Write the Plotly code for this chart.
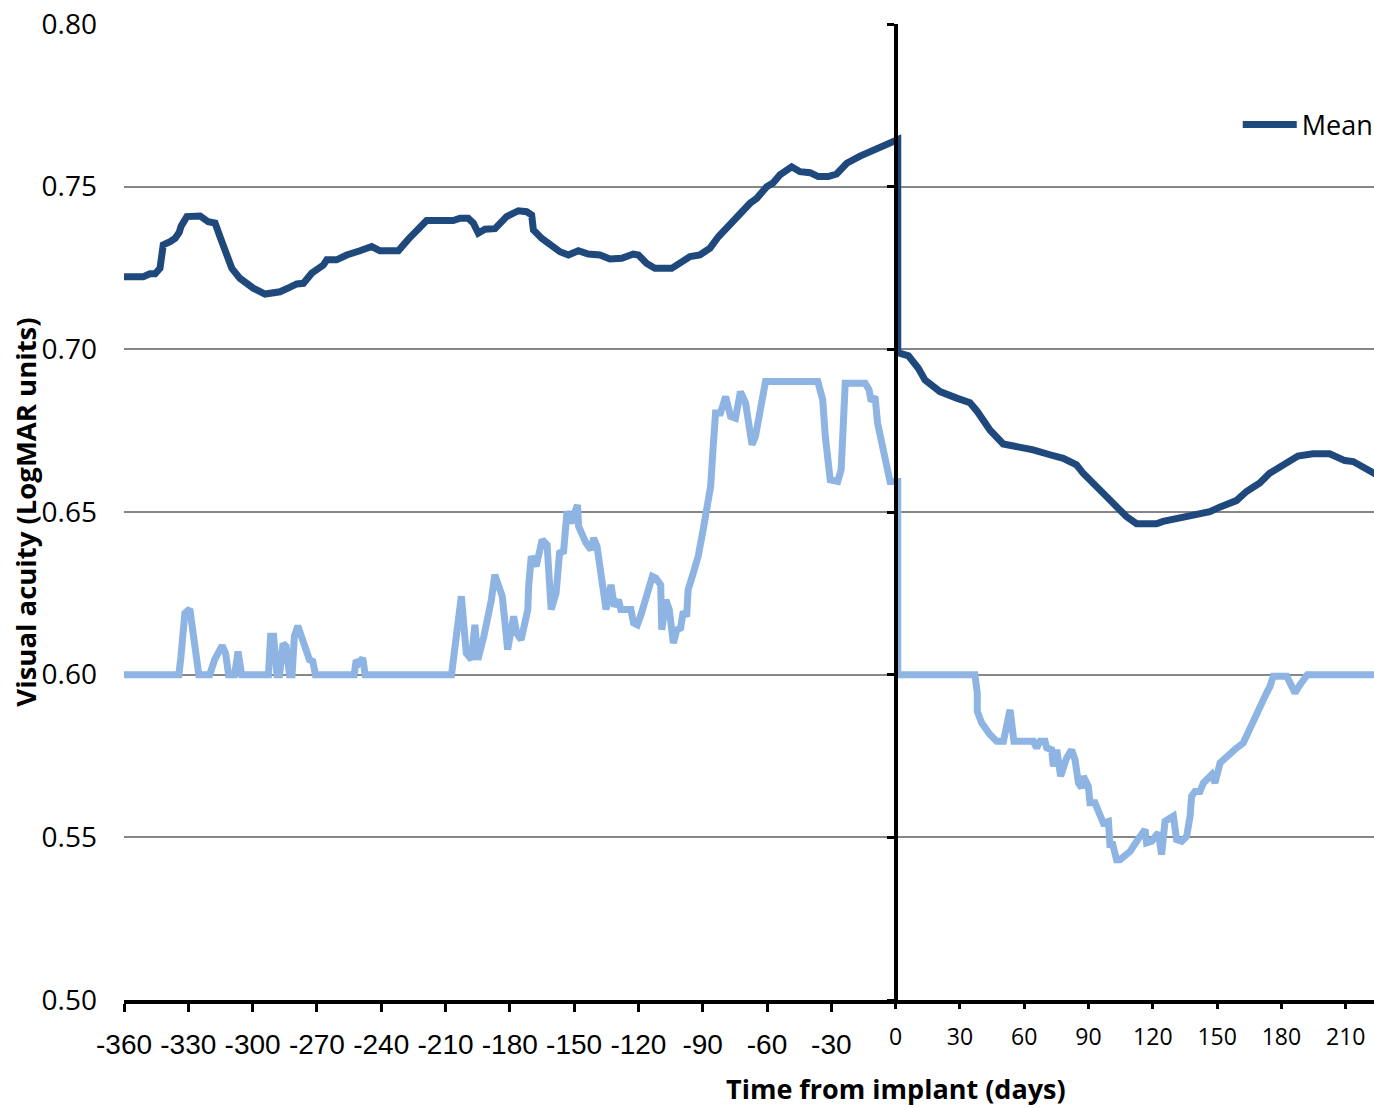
import plotly.graph_objects as go

# ---- data (days from implant, LogMAR) ----
mean_days = [-360, -351, -347.9, -345.5, -343.2, -341.7, -338.5, -336.2, -334.2, -333.4, -330.7,
             -324.5, -320.7, -317.5, -315.2, -312.1, -309.7, -305.9, -299.7, -294.2, -290.3,
             -287.2, -282.5, -279.4, -276.3, -272.4, -267.0, -265.4, -260.8, -256.1, -249.9,
             -244.4, -240.6, -232.0, -227.4, -223.4, -218.8, -206.4, -203.2, -199.4, -197.0,
             -194.7, -191.6, -186.9, -183.8, -181.5, -176.0, -172.1, -169.8, -169.0, -165.1,
             -161.2, -156.6, -152.7, -148.0, -143.4, -137.9, -133.3, -127.8, -122.4, -120.0,
             -116.1, -112.3, -104.5, -99.8, -95.9, -91.3, -86.6, -82.7, -74.2, -67.9, -64.8,
             -60.1, -57.1, -54.0, -48.5, -44.6, -39.9, -36.1, -31.4, -27.5, -22.8, -16.6, 1.0,
             1.0, 6.0, 10.6, 13.7, 20.7, 28.5, 34.7, 38.1, 44.0, 50.2, 56.5, 64.2, 72.0, 78.2,
             84.4, 87.5, 96.8, 107.7, 112.4, 121.7, 124.8, 132.6, 141.9, 146.6, 151.2, 159.0,
             163.7, 169.9, 174.5, 180.7, 187.7, 194.7, 202.5, 209.6, 213.5, 223.2, 228.0]
mean_vals = [0.7223, 0.7223, 0.7232, 0.7232, 0.7249, 0.7321, 0.7331, 0.7341, 0.7360, 0.7378, 0.7408,
             0.7410, 0.7392, 0.7388, 0.7346, 0.7290, 0.7249, 0.7218, 0.7188, 0.7170, 0.7172,
             0.7177, 0.7191, 0.7201, 0.7203, 0.7234, 0.7259, 0.7275, 0.7275, 0.7290, 0.7303,
             0.7316, 0.7303, 0.7303, 0.7338, 0.7367, 0.7396, 0.7396, 0.7403, 0.7403, 0.7388,
             0.7357, 0.7369, 0.7371, 0.7392, 0.7408, 0.7426, 0.7423, 0.7413, 0.7367, 0.7341,
             0.7321, 0.7300, 0.7290, 0.7303, 0.7293, 0.7290, 0.7278, 0.7280, 0.7293, 0.7290,
             0.7264, 0.7249, 0.7249, 0.7270, 0.7285, 0.7290, 0.7311, 0.7346, 0.7406, 0.7449, 0.7464,
             0.7500, 0.7512, 0.7536, 0.7561, 0.7546, 0.7543, 0.7531, 0.7531, 0.7539, 0.7572, 0.7594, 0.7645,
             0.6990, 0.6980, 0.6942, 0.6906, 0.6870, 0.6850, 0.6836, 0.6809, 0.6752, 0.6709, 0.6703,
             0.6691, 0.6676, 0.6665, 0.6645, 0.6619, 0.6558, 0.6486, 0.6464, 0.6464, 0.6471, 0.6481,
             0.6498, 0.6501, 0.6515, 0.6535, 0.6563, 0.6589, 0.6619, 0.6645, 0.6672, 0.6679, 0.6679,
             0.6658, 0.6655, 0.6619, 0.6600]

median_days = [-360, -334.4, -333.5, -331.6, -329.3, -327.0, -325.1, -320.0, -317.7, -314.2, -312.6,
               -311.2, -308.4, -306.8, -305.1, -292.6, -291.6, -290.2, -288.6, -287.4, -285.8,
               -284.4, -282.8, -281.6, -280.5, -278.9, -274.7, -273.5, -271.9, -270.7, -252.6,
               -251.7, -250.3, -248.6, -247.5, -207.2, -202.6, -200.3, -197.9, -196.3, -194.9,
               -192.1, -188.6, -187.0, -183.5, -182.8, -181.0, -178.2, -176.8, -174.7, -171.6,
               -171.2, -170.0, -167.7, -164.9, -162.6, -160.7, -158.4, -156.8, -154.9, -153.3,
               -151.4, -148.4, -147.9, -144.4, -142.1, -140.9, -139.3, -135.1, -132.8, -131.2,
               -129.3, -128.2, -123.5, -122.3, -120.5, -118.8, -113.5, -111.9, -109.6, -109.1,
               -107.2, -105.6, -103.7, -102.1, -100.3, -99.1, -97.5, -96.8, -94.4, -92.1, -89.8,
               -86.3, -85.1, -84.0, -81.7, -79.3, -77.0, -74.7, -72.4, -70.0, -67.0, -65.4, -60.7,
               -36.3, -34.0, -32.8, -30.5, -27.0, -25.4, -23.5, -14.2, -12.4, -11.4, -9.6, -8.4,
               -3.8, -2.6, 1.0,
               1.0, 37.0, 38.1, 38.1, 40.2, 44.0, 47.2, 50.3, 53.4, 55.2, 64.3, 65.8, 67.4, 69.7,
               70.5, 72.8, 73.6, 75.2, 77.0, 79.8, 82.1, 83.7, 85.3, 86.8, 87.6, 89.9, 90.7, 93.0,
               94.6, 96.9, 99.3, 100.0, 101.3, 103.1, 104.7, 109.4, 112.5, 116.4, 117.1, 119.5,
               122.6, 124.1, 125.7, 127.3, 129.6, 131.1, 133.5, 135.8, 137.4, 138.1, 139.7, 142.0,
               143.6, 147.5, 149.0, 151.4, 154.5, 159.1, 162.2, 164.6, 166.1, 168.5, 173.1, 174.7,
               176.2, 182.5, 186.3, 188.7, 191.0, 192.1, 228.0]
median_vals = [0.6000, 0.6000, 0.6051, 0.6189, 0.6202, 0.6097, 0.6000, 0.6000, 0.6046, 0.6089, 0.6066,
               0.6000, 0.6000, 0.6071, 0.6000, 0.6000, 0.6118, 0.6118, 0.6000, 0.6000, 0.6095,
               0.6087, 0.6000, 0.6000, 0.6118, 0.6150, 0.6077, 0.6046, 0.6041, 0.6000, 0.6000,
               0.6044, 0.6036, 0.6051, 0.6000, 0.6000, 0.6241, 0.6066, 0.6046, 0.6153, 0.6046,
               0.6118, 0.6230, 0.6307, 0.6241, 0.6189, 0.6077, 0.6179, 0.6128, 0.6107, 0.6200,
               0.6271, 0.6364, 0.6333, 0.6415, 0.6399, 0.6200, 0.6251, 0.6374, 0.6379, 0.6502,
               0.6466, 0.6522, 0.6456, 0.6404, 0.6384, 0.6420, 0.6394, 0.6200, 0.6276, 0.6210,
               0.6230, 0.6200, 0.6200, 0.6159, 0.6153, 0.6184, 0.6302, 0.6297, 0.6276, 0.6138,
               0.6230, 0.6200, 0.6097, 0.6138, 0.6143, 0.6194, 0.6179, 0.6261, 0.6312, 0.6364, 0.6445,
               0.6579, 0.6701, 0.6804, 0.6804, 0.6855, 0.6794, 0.6788, 0.6870, 0.6835, 0.6707, 0.6732, 0.6901,
               0.6901, 0.6845, 0.6732, 0.6599, 0.6594, 0.6630, 0.6896, 0.6896, 0.6876, 0.6840, 0.6855, 0.6773,
               0.6630, 0.6594, 0.6594,
               0.6000, 0.6000, 0.5944, 0.5887, 0.5851, 0.5816, 0.5795, 0.5795, 0.5892, 0.5795, 0.5795,
               0.5775, 0.5795, 0.5795, 0.5775, 0.5769, 0.5718, 0.5769, 0.5688, 0.5744, 0.5769, 0.5739,
               0.5667, 0.5652, 0.5688, 0.5657, 0.5606, 0.5606, 0.5575, 0.5544, 0.5549, 0.5478, 0.5478,
               0.5431, 0.5431, 0.5457, 0.5488, 0.5524, 0.5483, 0.5488, 0.5514, 0.5447, 0.5549, 0.5554,
               0.5565, 0.5493, 0.5488, 0.5503, 0.5565, 0.5626, 0.5641, 0.5641, 0.5667, 0.5693, 0.5667,
               0.5729, 0.5749, 0.5775, 0.5790, 0.5826, 0.5846, 0.5882, 0.5944, 0.5964, 0.5995, 0.5995,
               0.5944, 0.5969, 0.5985, 0.6000, 0.6000]

neg_ticks = [-360, -330, -300, -270, -240, -210, -180, -150, -120, -90, -60, -30]
pos_ticks = [0, 30, 60, 90, 120, 150, 180, 210]
y_ticks = [0.50, 0.55, 0.60, 0.65, 0.70, 0.75, 0.80]

X_RANGE = [-360, 223.2]
Y_RANGE = [0.50, 0.80]

fig = go.Figure()
# median drawn on the overlay axes (x2 / y2) so that those axes are rendered
fig.add_trace(go.Scatter(x=median_days, y=median_vals, mode="lines", name="Median",
                         xaxis="x2", yaxis="y2", showlegend=False,
                         line=dict(color="#8DB4E2", width=7)))
fig.add_trace(go.Scatter(x=mean_days, y=mean_vals, mode="lines", name="Mean",
                         line=dict(color="#1F497D", width=7)))

zero_pos = (0 - X_RANGE[0]) / (X_RANGE[1] - X_RANGE[0])

fig.update_layout(
    width=1374, height=1108,
    margin=dict(l=124, r=0, t=24, b=108, autoexpand=False),
    paper_bgcolor="white", plot_bgcolor="white",
    font=dict(family="Open Sans", color="black"),
    xaxis=dict(range=X_RANGE, tickvals=neg_ticks, ticktext=[str(v) for v in neg_ticks],
               showgrid=False, zeroline=False, showline=True, linecolor="black", linewidth=4,
               ticks="outside", ticklen=8, tickwidth=3, tickcolor="black",
               tickfont=dict(family="Liberation Sans", size=28, color="black"),
               ticklabelstandoff=8),
    xaxis2=dict(range=X_RANGE, matches="x", overlaying="x", anchor="y", side="bottom",
                tickvals=pos_ticks, ticktext=[str(v) for v in pos_ticks],
                showgrid=False, zeroline=False, showline=False,
                ticks="outside", ticklen=8, tickwidth=3, tickcolor="black",
                tickfont=dict(family="Open Sans", size=23, color="black"),
                ticklabelstandoff=8),
    yaxis=dict(range=Y_RANGE, tickvals=y_ticks, tickformat=".2f",
               showgrid=True, gridcolor="#868686", gridwidth=2, zeroline=False,
               showline=False, ticks="", ticklabelstandoff=26,
               tickfont=dict(family="Open Sans", size=28, color="black")),
    yaxis2=dict(range=Y_RANGE, matches="y", overlaying="y", anchor="free", position=zero_pos,
                side="left", tickvals=y_ticks, showticklabels=False, showgrid=False,
                zeroline=False, showline=True, linecolor="black", linewidth=4,
                ticks="outside", ticklen=7, tickwidth=3, tickcolor="black"),
    legend=dict(x=0.891, y=0.8965, xanchor="left", yanchor="middle",
                bgcolor="rgba(0,0,0,0)", font=dict(family="Open Sans", size=27, color="black"),
                itemwidth=54),
    annotations=[
        dict(text="<b>Time from implant (days)</b>", xref="paper", yref="paper",
             x=zero_pos, y=-0.0905, xanchor="center", yanchor="middle", showarrow=False,
             font=dict(family="Open Sans", size=27, color="black")),
        dict(text="<b>Visual acuity (LogMAR units)</b>", xref="paper", yref="paper",
             x=-0.0795, y=0.5, xanchor="center", yanchor="middle", textangle=-90, showarrow=False,
             font=dict(family="Open Sans", size=27.5, color="black")),
    ],
)

fig.write_html("out.html", config={"displayModeBar": False},
               post_script="document.body.style.margin='0';")
